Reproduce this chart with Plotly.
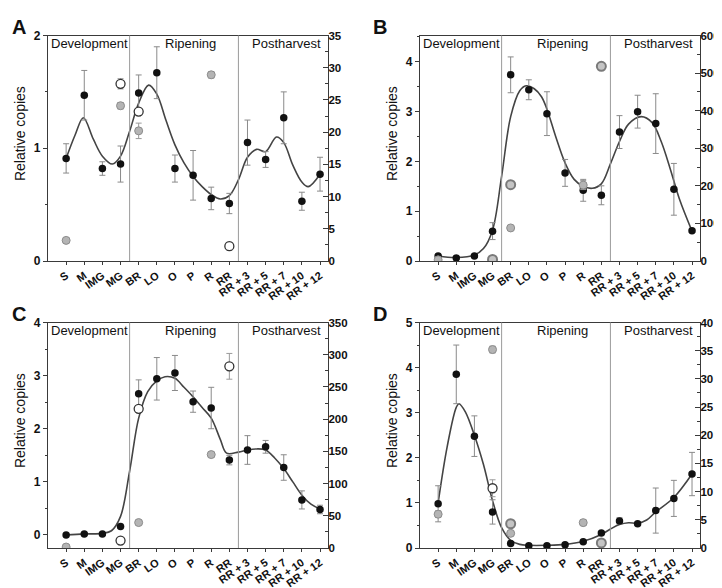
import plotly.graph_objects as go

categories = ["S", "M", "IMG", "MG", "BR", "LO", "O", "P", "R", "RR",
              "RR + 3", "RR + 5", "RR + 7", "RR + 10", "RR + 12"]
phases = ["Development", "Ripening", "Postharvest"]

# ---------- Panel A ----------
A_black = [0.91, 1.47, 0.82, 0.86, 1.49, 1.67, 0.82, 0.76, 0.555, 0.51, 1.05, 0.90, 1.27, 0.53, 0.77]
A_black_err = [0.13, 0.22, 0.06, 0.16, 0.16, 0.23, 0.12, 0.22, 0.10, 0.09, 0.20, 0.07, 0.23, 0.08, 0.15]
A_gray = [3.2, None, None, 24.1, 20.2, None, None, None, 28.9, None, None, None, None, None, None]
A_gray_err = [0.4, None, None, 0.5, 1.2, None, None, None, 0.5, None, None, None, None, None, None]
A_open = [None, None, None, 27.5, 23.2, None, None, None, None, 2.3, None, None, None, None, None]
A_open_err = [None, None, None, 0.8, 0.5, None, None, None, None, 0.6, None, None, None, None, None]
A_ring = [None] * 15
A_ring_err = [None] * 15
A_fit_x = [0, 0.5, 0.95, 1.5, 2.0, 2.55, 3.0, 3.5, 4.0, 4.55, 5.0, 5.5, 6.0, 6.5, 7.0, 7.5, 8.0, 8.5,
           9.0, 9.5, 10.0, 10.5, 11.0, 11.6, 12.0, 12.5, 13.0, 13.35, 14.0]
A_fit_y = [0.91, 1.12, 1.27, 1.08, 0.93, 0.86, 0.93, 1.15, 1.40, 1.56, 1.48, 1.25, 1.03, 0.87, 0.75, 0.66,
           0.59, 0.55, 0.58, 0.72, 0.92, 0.99, 0.97, 1.10, 1.05, 0.85, 0.70, 0.66, 0.77]

# ---------- Panel B ----------
B_black = [0.10, 0.06, 0.10, 0.60, 3.74, 3.44, 2.96, 1.77, 1.42, 1.32, 2.59, 3.00, 2.76, 1.44, 0.61]
B_black_err = [0.02, 0.02, 0.02, 0.17, 0.36, 0.20, 0.44, 0.27, 0.22, 0.19, 0.33, 0.33, 0.60, 0.52, 0.02]
B_gray = [3, None, None, None, 88, None, None, None, 202, None, None, None, None, None, None]
B_gray_err = [None, None, None, None, 3, None, None, None, 12, None, None, None, None, None, None]
B_open = [None] * 15
B_open_err = [None] * 15
B_ring = [None, None, None, 4, 203, None, None, None, None, 518, None, None, None, None, None]
B_ring_err = [None, None, None, 3, 5, None, None, None, None, 6, None, None, None, None, None]
B_fit_x = [0, 1, 2, 2.5, 3, 3.5, 4, 4.5, 4.85, 5.3, 5.7, 6, 6.5, 7, 7.5, 8, 8.5, 9, 9.5, 10, 10.5, 11.2,
           11.8, 12.3, 12.8, 13.3, 14]
B_fit_y = [0.10, 0.07, 0.12, 0.25, 0.62, 1.70, 2.90, 3.42, 3.52, 3.46, 3.30, 3.05, 2.48, 1.97, 1.64, 1.50,
           1.46, 1.55, 1.95, 2.40, 2.75, 2.90, 2.78, 2.40, 1.85, 1.25, 0.60]

# ---------- Panel C ----------
C_black = [0.0, 0.02, 0.02, 0.16, 2.66, 2.94, 3.05, 2.51, 2.39, 1.41, 1.60, 1.66, 1.27, 0.66, 0.48]
C_black_err = [0.02, 0.02, 0.02, 0.02, 0.26, 0.40, 0.33, 0.20, 0.39, 0.09, 0.27, 0.12, 0.24, 0.17, 0.08]
C_gray = [1.5, None, None, None, 39.5, None, None, None, 145, None, None, None, None, None, None]
C_gray_err = [None, None, None, None, 3, None, None, None, 4, None, None, None, None, None, None]
C_open = [None, None, None, 11.6, 216, None, None, None, None, 282, None, None, None, None, None]
C_open_err = [None, None, None, 2, 3, None, None, None, None, 20, None, None, None, None, None]
C_ring = [None] * 15
C_ring_err = [None] * 15
C_fit_x = [0, 1, 2, 2.5, 3, 3.5, 4, 4.5, 5, 5.45, 6, 6.5, 7, 7.5, 8, 8.5, 8.85, 9.5, 10, 10.5, 11, 11.5,
           12, 12.5, 13, 13.5, 14]
C_fit_y = [0.0, 0.02, 0.03, 0.08, 0.35, 1.20, 2.20, 2.70, 2.90, 2.98, 2.95, 2.78, 2.60, 2.40, 2.20, 1.80,
           1.54, 1.56, 1.60, 1.62, 1.60, 1.45, 1.25, 1.00, 0.75, 0.58, 0.49]

# ---------- Panel D ----------
D_black = [0.98, 3.85, 2.48, 0.80, 0.10, 0.05, 0.05, 0.07, 0.14, 0.33, 0.60, 0.54, 0.83, 1.10, 1.64]
D_black_err = [0.40, 0.65, 0.45, 0.27, 0.02, 0.02, 0.02, 0.02, 0.02, 0.02, 0.07, 0.03, 0.50, 0.40, 0.48]
D_gray = [6.0, None, None, 35.2, 2.6, None, None, None, 4.5, None, None, None, None, None, None]
D_gray_err = [0.6, None, None, 0.6, 0.4, None, None, None, 0.5, None, None, None, None, None, None]
D_open = [None, None, None, 10.6, None, None, None, None, None, None, None, None, None, None, None]
D_open_err = [None, None, None, 1.5, None, None, None, None, None, None, None, None, None, None, None]
D_ring = [None, None, None, None, 4.3, None, None, None, None, 0.9, None, None, None, None, None]
D_ring_err = [None, None, None, None, 0.3, None, None, None, None, 0.3, None, None, None, None, None]
D_fit_x = [0, 0.5, 1.0, 1.15, 1.5, 2, 2.5, 3, 3.5, 4, 4.5, 5, 6, 7, 8, 9, 9.5, 10, 10.5, 11, 11.5, 12,
           13, 14]
D_fit_y = [1.0, 2.25, 3.12, 3.20, 3.02, 2.50, 1.85, 1.05, 0.45, 0.17, 0.08, 0.06, 0.06, 0.08, 0.15, 0.30,
           0.42, 0.52, 0.56, 0.55, 0.62, 0.80, 1.12, 1.64]

panels = [
    dict(letter="A", box=(40, 320, 21, 252), left=(0, 2), right=(0, 35), ldt=1, rdt=5,
         black=A_black, berr=A_black_err, gray=A_gray, gerr=A_gray_err, open=A_open, oerr=A_open_err,
         ring=A_ring, rerr=A_ring_err, fx=A_fit_x, fy=A_fit_y),
    dict(letter="B", box=(412, 692, 21, 252), left=(0, 4.53), right=(0, 600), ldt=1, rdt=100,
         black=B_black, berr=B_black_err, gray=B_gray, gerr=B_gray_err, open=B_open, oerr=B_open_err,
         ring=B_ring, rerr=B_ring_err, fx=B_fit_x, fy=B_fit_y),
    dict(letter="C", box=(40, 320, 315, 546), left=(-0.245, 4), right=(0, 350), ldt=1, rdt=50,
         black=C_black, berr=C_black_err, gray=C_gray, gerr=C_gray_err, open=C_open, oerr=C_open_err,
         ring=C_ring, rerr=C_ring_err, fx=C_fit_x, fy=C_fit_y),
    dict(letter="D", box=(412, 692, 315, 546), left=(0, 5), right=(0, 40), ldt=1, rdt=5,
         black=D_black, berr=D_black_err, gray=D_gray, gerr=D_gray_err, open=D_open, oerr=D_open_err,
         ring=D_ring, rerr=D_ring_err, fx=D_fit_x, fy=D_fit_y),
]

W, H = 722, 588
FONT = "Liberation Sans, Arial, sans-serif"
AX = "#3a3a3a"
fig = go.Figure()
xidx = list(range(len(categories)))
cat_text = [f"<b>{c}</b>" for c in categories]


def px(p):
    return p / W


def py(p):
    return 1 - p / H


annotations = []
shapes = []
layout = {}
for i, P in enumerate(panels):
    n = i + 1
    xa = "x" if n == 1 else f"x{n}"
    yl = "y" if n == 1 else f"y{2 * n - 1}"
    yr = f"y{2 * n}"
    xkey = "xaxis" if n == 1 else f"xaxis{n}"
    ylkey = "yaxis" if n == 1 else f"yaxis{2 * n - 1}"
    yrkey = f"yaxis{2 * n}"
    L, R, T, B = P["box"]
    tickfont = dict(family=FONT, size=12, color="#111", weight="bold")
    rtickfont = dict(family=FONT, size=11.5, color="#111", weight="bold")
    layout[xkey] = dict(domain=[px(L), px(R)], anchor=yl, range=[-1.0, 14.44],
                        tickmode="array", tickvals=xidx, ticktext=cat_text, tickangle=-35,
                        tickfont=dict(family=FONT, size=11, color="#111"),
                        showline=True, linecolor=AX, linewidth=1.3, mirror=True,
                        ticks="outside", ticklen=3, tickcolor=AX, showgrid=False, zeroline=False)
    layout[ylkey] = dict(domain=[py(B), py(T)], anchor=xa, range=list(P["left"]),
                         dtick=P["ldt"], tick0=0, tickfont=tickfont,
                         showline=True, linecolor=AX, linewidth=1.3,
                         ticks="outside", ticklen=4, tickcolor=AX, showgrid=False, zeroline=False,
                         minor=dict(dtick=P["ldt"] / 2, ticks="outside", ticklen=2, tickcolor=AX))
    layout[yrkey] = dict(overlaying=yl, side="right", anchor=xa, range=list(P["right"]),
                         dtick=P["rdt"], tick0=0, tickfont=rtickfont, ticklabelstandoff=-3,
                         showline=True, linecolor=AX, linewidth=1.3,
                         ticks="inside", ticklen=5, tickcolor=AX, showgrid=False, zeroline=False,
                         minor=dict(dtick=P["rdt"] / 2, ticks="inside", ticklen=3, tickcolor=AX))

    # phase separators
    for xs in (3.5, 9.5):
        shapes.append(dict(type="line", xref=xa, yref=f"{yl} domain", x0=xs, x1=xs, y0=0, y1=1,
                           line=dict(color="#9a9a9a", width=1)))
    # phase labels
    for name, xc in zip(phases, (1.3, 6.86, 12.17)):
        annotations.append(dict(text=name, xref=xa, yref="paper", x=xc, y=py(T + 8.5),
                                showarrow=False, xanchor="center", yanchor="middle",
                                font=dict(family=FONT, size=13, color="#111")))
    # panel letter
    annotations.append(dict(text=f"<b>{P['letter']}</b>", xref="paper", yref="paper",
                            x=px(L - 38 if L < 100 else L - 49), y=py(T - 9), showarrow=False,
                            xanchor="left", yanchor="middle",
                            font=dict(family=FONT, size=20, color="#111")))
    # y title
    annotations.append(dict(text="Relative copies", xref="paper", yref="paper",
                            x=px(L - 28), y=py(T + 101), showarrow=False, textangle=-90,
                            xanchor="center", yanchor="middle",
                            font=dict(family=FONT, size=14, color="#111")))

    # gray filled markers (right axis)
    fig.add_trace(go.Scatter(x=xidx, y=P["gray"], xaxis=xa, yaxis=yr, mode="markers",
                             marker=dict(size=8, color="#b4b4b4", line=dict(color="#8c8c8c", width=1)),
                             error_y=dict(type="data", array=P["gerr"], color="#9a9a9a", thickness=1, width=3),
                             showlegend=False))
    fig.add_trace(go.Scatter(x=xidx, y=P["ring"], xaxis=xa, yaxis=yr, mode="markers",
                             marker=dict(size=9, color="#c4c4c4", line=dict(color="#7a7a7a", width=2)),
                             error_y=dict(type="data", array=P["rerr"], color="#9a9a9a", thickness=1, width=3),
                             showlegend=False))
    fig.add_trace(go.Scatter(x=xidx, y=P["open"], xaxis=xa, yaxis=yr, mode="markers",
                             marker=dict(size=9, color="white", line=dict(color="#333", width=1.3)),
                             error_y=dict(type="data", array=P["oerr"], color="#9a9a9a", thickness=1, width=3),
                             showlegend=False))
    # fit curve
    fig.add_trace(go.Scatter(x=P["fx"], y=P["fy"], xaxis=xa, yaxis=yl, mode="lines",
                             line=dict(color="#444", width=1.6, shape="spline", smoothing=1.0),
                             showlegend=False, hoverinfo="skip"))
    # black dots (left axis)
    fig.add_trace(go.Scatter(x=xidx, y=P["black"], xaxis=xa, yaxis=yl, mode="markers",
                             marker=dict(size=7.5, color="#111"),
                             error_y=dict(type="data", array=P["berr"], color="#8a8a8a", thickness=1, width=3),
                             showlegend=False))

fig.update_layout(width=W, height=H, margin=dict(l=0, r=0, t=0, b=0),
                  paper_bgcolor="white", plot_bgcolor="white",
                  annotations=annotations, shapes=shapes, **layout)
fig.write_html("out.html")
